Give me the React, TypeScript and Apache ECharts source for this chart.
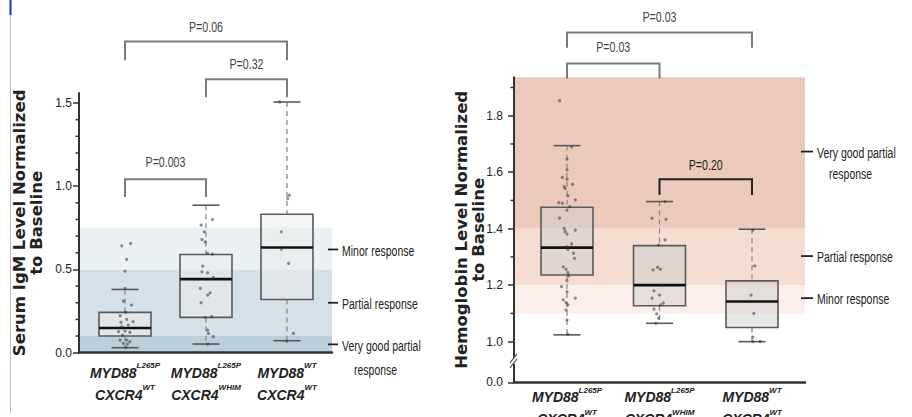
import React, { useEffect, useRef } from "react";
import * as echarts from "echarts";

const SANS = "'Liberation Sans',Arial,sans-serif";
const TITLE_FONT = "'DejaVu Sans',Verdana,sans-serif";

// ---- categories (x labels) ----
const geneTop = ["MYD88", "MYD88", "MYD88"];
const geneTopSup = ["L265P", "L265P", "WT"];
const geneBottom = ["CXCR4", "CXCR4", "CXCR4"];
const geneBottomSup = ["WT", "WHIM", "WT"];

// ---- box statistics [min, Q1, median, Q3, max] ----
const igmBoxStats = [
  [0.03, 0.1, 0.148, 0.242, 0.38],
  [0.052, 0.212, 0.442, 0.59, 0.886],
  [0.072, 0.32, 0.632, 0.832, 1.506],
];
const hgbBoxStats = [
  [1.024, 1.236, 1.333, 1.476, 1.694],
  [1.065, 1.127, 1.2, 1.34, 1.496],
  [1.0, 1.05, 1.142, 1.215, 1.398],
];

// ---- individual patients [jitter, value] per group ----
const igmPoints = [
  [[-0.04, 0.642], [0.07, 0.656], [0.02, 0.56], [0, 0.49], [0, 0.386], [-0.02, 0.31], [0.08, 0.286], [0.01, 0.242],
   [-0.06, 0.222], [0.02, 0.2], [0.1, 0.186], [-0.05, 0.182], [0.04, 0.166], [-0.04, 0.156], [0, 0.13], [-0.08, 0.126],
   [0.06, 0.122], [-0.03, 0.106], [-0.06, 0.076], [0.02, 0.076], [0.06, 0.066], [-0.02, 0.056], [0.03, 0.052], [0.01, 0.03]],
  [[0.08, 0.8], [-0.06, 0.766], [-0.02, 0.726], [-0.05, 0.68], [-0.01, 0.666], [0.02, 0.596], [0.08, 0.592], [-0.04, 0.52],
   [-0.05, 0.486], [0.02, 0.48], [0.09, 0.452], [-0.07, 0.386], [0.05, 0.36], [0.02, 0.346], [-0.06, 0.3], [-0.01, 0.212],
   [0.07, 0.216], [0.02, 0.136], [0.03, 0.116], [0.09, 0.096], [0.02, 0.052]],
  [[-0.09, 1.506], [0.03, 0.946], [0.01, 0.926], [-0.07, 0.726], [-0.07, 0.622], [0.02, 0.536], [0.08, 0.116], [0, 0.07]],
];
const hgbPoints = [
  [[-0.08, 1.853], [0.05, 1.69], [0, 1.646], [0, 1.608], [-0.05, 1.582], [0, 1.575], [0.06, 1.557], [-0.03, 1.549],
   [-0.02, 1.542], [0.01, 1.516], [0.09, 1.502], [-0.09, 1.492], [-0.05, 1.49], [0.03, 1.478], [0, 1.466], [-0.08, 1.437],
   [-0.03, 1.401], [0.09, 1.395], [-0.02, 1.39], [0, 1.381], [0.05, 1.346], [0, 1.336], [0.01, 1.327], [0.07, 1.313],
   [0.08, 1.295], [-0.04, 1.265], [-0.01, 1.256], [0.01, 1.244], [0.02, 1.233], [0, 1.216], [-0.06, 1.195], [0, 1.177],
   [0.09, 1.154], [-0.04, 1.148], [-0.01, 1.138], [0.01, 1.13], [-0.01, 1.112], [0, 1.077], [0.01, 1.026]],
  [[0.06, 1.496], [-0.08, 1.437], [0.07, 1.433], [0.06, 1.36], [-0.01, 1.342], [-0.07, 1.254], [-0.02, 1.263], [0.01, 1.256],
   [0.02, 1.2], [-0.06, 1.18], [0, 1.165], [-0.08, 1.154], [0.04, 1.136], [0.01, 1.13], [-0.06, 1.115], [-0.03, 1.098],
   [-0.01, 1.083], [-0.04, 1.065]],
  [[0.01, 1.395], [0.03, 1.268], [-0.01, 1.165], [0.02, 1.1], [0.01, 1.016], [0.09, 1.0], [0.01, 1.0]],
];

// ---- axes ----
const igmRange = [0, 1.56];
const hgbRange = [0.856, 1.936];
const igmXRange = [-0.568, 2.556];
const hgbXRange = [-0.573, 2.573];
const groupTicks = [0, 1, 2];
const igmMajorTicks = [0, 0.5, 1.0, 1.5];
const igmTickLabels = ["0.0", "0.5", "1.0", "1.5"];
const igmMinorTicks = [0.1, 0.2, 0.3, 0.4, 0.6, 0.7, 0.8, 0.9, 1.1, 1.2, 1.3, 1.4];
const hgbMajorTicks = [0.856, 1.0, 1.2, 1.4, 1.6, 1.8];
const hgbTickLabels = ["0.0", "1.0", "1.2", "1.4", "1.6", "1.8"];
const hgbMinorTicks = [1.1, 1.3, 1.5, 1.7, 1.9];
const hgbBreakValue = [0.928];

// ---- response bands [low, high] ----
const igmBands = [[0.5, 0.75], [0.1, 0.5], [0, 0.1]];
const hgbBands = [[1.4, 1.936], [1.2, 1.4], [1.1, 1.2]];
const igmBandColors = ["#eaf0f3", "#d4e1e9", "#b9cfdb"];
const hgbBandColors = ["#ebcabb", "#f5ddd2", "#fcefeb"];

// ---- response labels ----
const igmResponseLevels = [0.62, 0.3, 0.05];
const igmResponseNames = ["Minor response", "Partial response", "Very good partial|response"];
const hgbResponseLevels = [1.673, 1.303, 1.154];
const hgbResponseNames = ["Very good partial|response", "Partial response", "Minor response"];

// ---- significance brackets [from, to, top, legEnd, labelY] ----
const igmBrackets = [[0, 2, 1.87, 1.756, 1.954], [1, 2, 1.642, 1.534, 1.732], [0, 1, 1.042, 0.936, 1.14]];
const igmBracketLabels = ["P=0.06", "P=0.32", "P=0.003"];
const hgbBrackets = [[0, 2, 2.095, 2.041, 2.149], [0, 1, 1.985, 1.932, 2.041], [1, 2, 1.575, 1.519, 1.622]];
const hgbBracketLabels = ["P=0.03", "P=0.03", "P=0.20"];
const igmBracketColors = ["#7a7a7a", "#7a7a7a", "#7a7a7a"];
const hgbBracketColors = ["#7a7a7a", "#7a7a7a", "#222"];

function pickLabel(values: number[], labels: string[]) {
  return (v: number) => {
    const i = values.findIndex((t) => Math.abs(t - v) < 1e-6);
    return i >= 0 ? labels[i] : "";
  };
}

function geneLabel(v: number) {
  const i = Math.round(v);
  return `{g|${geneTop[i]}}{s|${geneTopSup[i]}}\n{g|${geneBottom[i]}}{s|${geneBottomSup[i]}}`;
}

const geneRich = {
  g: { fontFamily: SANS, fontSize: 14, fontStyle: "italic", fontWeight: "bold", color: "#222", lineHeight: 22 },
  s: { fontFamily: SANS, fontSize: 8, fontStyle: "italic", fontWeight: "bold", color: "#222", verticalAlign: "top" },
};

function bandSeries(gi: number, bands: number[][], colors: string[]) {
  return {
    type: "custom",
    xAxisIndex: gi,
    yAxisIndex: gi,
    z: 1,
    silent: true,
    data: bands,
    renderItem: (params: any, api: any) => {
      const cs = params.coordSys;
      const top = api.coord([0, api.value(1)])[1];
      const bot = api.coord([0, api.value(0)])[1];
      return {
        type: "rect",
        shape: { x: cs.x, y: top, width: cs.width, height: bot - top },
        style: { fill: colors[params.dataIndex] },
      };
    },
  };
}

function minorTickSeries(gi: number, ticks: number[]) {
  return {
    type: "custom",
    xAxisIndex: gi,
    yAxisIndex: gi,
    z: 11,
    silent: true,
    clip: false,
    data: ticks.map((v) => [0, v]),
    renderItem: (params: any, api: any) => {
      const cs = params.coordSys;
      const y = api.coord([0, api.value(1)])[1];
      return {
        type: "line",
        shape: { x1: cs.x - 3.5, y1: y, x2: cs.x, y2: y },
        style: { stroke: "#333", lineWidth: 1.5 },
      };
    },
  };
}

function boxSeries(gi: number, stats: number[][], fill: string) {
  return {
    type: "custom",
    xAxisIndex: gi,
    yAxisIndex: gi,
    z: 3,
    silent: true,
    data: stats.map((s, i) => [i, ...s]),
    renderItem: (params: any, api: any) => {
      const i = api.value(0);
      const pMin = api.coord([i, api.value(1)]);
      const pQ1 = api.coord([i, api.value(2)]);
      const pMed = api.coord([i, api.value(3)]);
      const pQ3 = api.coord([i, api.value(4)]);
      const pMax = api.coord([i, api.value(5)]);
      const cx = pQ1[0];
      const hw = 26;
      const cap = 13.5;
      const dash = { stroke: "#8c8c8c", lineWidth: 1.3, lineDash: [5, 4] };
      const solid = { stroke: "#5a5a5a", lineWidth: 1.6 };
      return {
        type: "group",
        children: [
          { type: "line", shape: { x1: cx, y1: pMax[1], x2: cx, y2: pQ3[1] }, style: dash },
          { type: "line", shape: { x1: cx, y1: pQ1[1], x2: cx, y2: pMin[1] }, style: dash },
          { type: "line", shape: { x1: cx - cap, y1: pMax[1], x2: cx + cap, y2: pMax[1] }, style: solid },
          { type: "line", shape: { x1: cx - cap, y1: pMin[1], x2: cx + cap, y2: pMin[1] }, style: solid },
          {
            type: "rect",
            shape: { x: cx - hw, y: pQ3[1], width: hw * 2, height: pQ1[1] - pQ3[1] },
            style: { fill, stroke: "#5a5a5a", lineWidth: 1.6 },
          },
          { type: "line", shape: { x1: cx - hw, y1: pMed[1], x2: cx + hw, y2: pMed[1] }, style: { stroke: "#111", lineWidth: 2.6 } },
        ],
      };
    },
  };
}

function pointSeries(gi: number, groups: number[][][]) {
  const data: number[][] = [];
  groups.forEach((g, i) => g.forEach((p) => data.push([i + p[0], p[1]])));
  return {
    type: "scatter",
    xAxisIndex: gi,
    yAxisIndex: gi,
    z: 4,
    silent: true,
    symbol: "circle",
    symbolSize: 3.2,
    itemStyle: { color: "rgba(55,55,55,0.7)" },
    data,
  };
}

function bracketSeries(gi: number, brackets: number[][], labels: string[], colors: string[]) {
  return {
    type: "custom",
    xAxisIndex: gi,
    yAxisIndex: gi,
    z: 6,
    silent: true,
    clip: false,
    data: brackets,
    renderItem: (params: any, api: any) => {
      const a = api.coord([api.value(0), api.value(2)]);
      const b = api.coord([api.value(1), api.value(2)]);
      const legY = api.coord([0, api.value(3)])[1];
      const ty = api.coord([0, api.value(4)])[1];
      const col = colors[params.dataIndex];
      const st = { stroke: col, lineWidth: 2, fill: "none" };
      return {
        type: "group",
        children: [
          { type: "polyline", shape: { points: [[a[0], legY], [a[0], a[1]], [b[0], b[1]], [b[0], legY]] }, style: st },
          {
            type: "text",
            x: (a[0] + b[0]) / 2,
            y: ty,
            scaleX: 0.76,
            style: {
              text: labels[params.dataIndex],
              fill: col === "#222" ? "#222" : "#444",
              fontFamily: SANS,
              fontSize: 14,
              align: "center",
              verticalAlign: "middle",
            },
          },
        ],
      };
    },
  };
}

function responseSeries(gi: number, levels: number[], names: string[], dashIn: number, dashOut: number, lineGap: number) {
  return {
    type: "custom",
    xAxisIndex: gi,
    yAxisIndex: gi,
    z: 6,
    silent: true,
    clip: false,
    data: levels.map((v) => [0, v]),
    renderItem: (params: any, api: any) => {
      const cs = params.coordSys;
      const xe = cs.x + cs.width;
      const y = api.coord([0, api.value(1)])[1];
      const parts = names[params.dataIndex].split("|");
      const font = { fill: "#222", fontFamily: SANS, fontSize: 15, align: "left", verticalAlign: "middle" };
      const children: any[] = [
        { type: "line", shape: { x1: xe - dashIn, y1: y, x2: xe + dashOut, y2: y }, style: { stroke: "#222", lineWidth: 1.8 } },
        { type: "text", x: xe + dashOut + 4, y: y + 1, scaleX: 0.7, style: { ...font, text: parts[0] } },
      ];
      if (parts[1]) {
        children.push({ type: "text", x: xe + dashOut + 16, y: y + 1 + lineGap, scaleX: 0.7, style: { ...font, text: parts[1] } });
      }
      return { type: "group", children };
    },
  };
}

function breakSeries() {
  return {
    type: "custom",
    xAxisIndex: 1,
    yAxisIndex: 1,
    z: 12,
    silent: true,
    clip: false,
    data: hgbBreakValue.map((v) => [0, v]),
    renderItem: (params: any, api: any) => {
      const cs = params.coordSys;
      const y = api.coord([0, api.value(1)])[1];
      const x = cs.x;
      const st = { stroke: "#555", lineWidth: 1.2 };
      return {
        type: "group",
        children: [
          { type: "rect", shape: { x: x - 3, y: y - 4, width: 6, height: 6 }, style: { fill: "#fff" } },
          { type: "line", shape: { x1: x - 4, y1: y + 1, x2: x + 3, y2: y - 8 }, style: st },
          { type: "line", shape: { x1: x - 4, y1: y + 6, x2: x + 3, y2: y - 3 }, style: st },
        ],
      };
    },
  };
}

function makeXAxis(gi: number, range: number[], margin: number) {
  return {
    type: "value",
    gridIndex: gi,
    position: "bottom",
    min: range[0],
    max: range[1],
    z: 10,
    axisLine: { show: true, onZero: false, lineStyle: { color: "#333", width: 2.5 } },
    axisTick: { show: false },
    splitLine: { show: false },
    axisLabel: { customValues: groupTicks, formatter: geneLabel, rich: geneRich, margin, hideOverlap: false },
  };
}

function makeYAxis(gi: number, range: number[], major: number[], labels: string[], name: string, nameGap: number, labelMargin: number) {
  return {
    type: "value",
    gridIndex: gi,
    position: "left",
    min: range[0],
    max: range[1],
    z: 10,
    axisLine: { show: true, onZero: false, lineStyle: { color: "#333", width: 2 } },
    axisTick: { show: true, customValues: major, length: 6, lineStyle: { color: "#333", width: 1.5 } },
    axisLabel: {
      customValues: major,
      formatter: pickLabel(major, labels),
      fontFamily: SANS,
      fontSize: 12,
      color: "#222",
      margin: labelMargin,
    },
    splitLine: { show: false },
    name,
    nameLocation: "middle",
    nameRotate: 90,
    nameGap,
    nameMoveOverlap: false,
    nameTextStyle: { fontFamily: TITLE_FONT, fontWeight: "bold", fontSize: 16.5, color: "#222", lineHeight: 17 },
  };
}

export default function App() {
  const ref = useRef<HTMLDivElement>(null);
  useEffect(() => {
    if (!ref.current) return;
    const chart = echarts.init(ref.current, null, { renderer: "svg" });
    chart.setOption({
      animation: false,
      backgroundColor: "#fff",
      grid: [
        { left: 79, top: 93, width: 253, height: 259.7, containLabel: false, outerBoundsMode: "none" },
        { left: 514, top: 77.3, width: 291, height: 305, containLabel: false, outerBoundsMode: "none" },
      ],
      xAxis: [makeXAxis(0, igmXRange, 9), makeXAxis(1, hgbXRange, 4)],
      yAxis: [
        makeYAxis(0, igmRange, igmMajorTicks, igmTickLabels, "Serum IgM Level Normalized\nto Baseline", 34, 7),
        makeYAxis(1, hgbRange, hgbMajorTicks, hgbTickLabels, "Hemoglobin Level Normalized\nto Baseline", 27.5, 11),
      ],
      graphic: [
        { type: "line", shape: { x1: 10.5, y1: 15, x2: 10.5, y2: 413 }, style: { stroke: "#b9b9ea", lineWidth: 1 } },
        { type: "line", shape: { x1: 10.5, y1: 0, x2: 10.5, y2: 15 }, style: { stroke: "#2233bb", lineWidth: 2 } },
      ],
      series: [
        bandSeries(0, igmBands, igmBandColors),
        bandSeries(1, hgbBands, hgbBandColors),
        minorTickSeries(0, igmMinorTicks),
        minorTickSeries(1, hgbMinorTicks),
        boxSeries(0, igmBoxStats, "rgba(235,235,235,0.5)"),
        boxSeries(1, hgbBoxStats, "rgba(205,205,205,0.5)"),
        pointSeries(0, igmPoints),
        pointSeries(1, hgbPoints),
        bracketSeries(0, igmBrackets, igmBracketLabels, igmBracketColors),
        bracketSeries(1, hgbBrackets, hgbBracketLabels, hgbBracketColors),
        responseSeries(0, igmResponseLevels, igmResponseNames, 4, 6, 24),
        responseSeries(1, hgbResponseLevels, hgbResponseNames, 4, 8, 21),
        breakSeries(),
      ],
    });
    return () => chart.dispose();
  }, []);
  return <div ref={ref} style={{ position: "fixed", left: 0, top: 0, width: 912, height: 417, background: "#fff" }} />;
}
